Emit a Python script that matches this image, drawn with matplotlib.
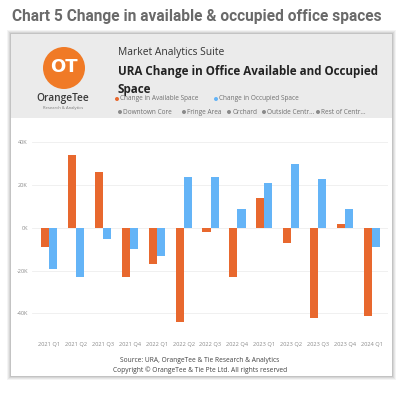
import matplotlib
matplotlib.use('Agg')
import matplotlib.pyplot as plt
import numpy as np
from matplotlib.patches import Rectangle, Ellipse

# data (thousand sq ft)
quarters = ['2021 Q1', '2021 Q2', '2021 Q3', '2021 Q4', '2022 Q1', '2022 Q2', '2022 Q3',
            '2022 Q4', '2023 Q1', '2023 Q2', '2023 Q3', '2023 Q4', '2024 Q1']
available = [-9, 34, 26, -23, -17, -44, -2, -23, 14, -7, -42, 2, -41]
occupied = [-19, -23, -5, -10, -13, 24, 24, 9, 21, 30, 23, 9, -9]
yticks = [-40, -20, 0, 20, 40]
ytick_labels = ['-40K', '-20K', '0K', '20K', '40K']

orange = '#E8682E'
blue = '#64B4F7'
W, H = 403, 397


def fx(x):
    return x / W


def fy(y):
    return 1 - y / H


fig = plt.figure(figsize=(W / 100, H / 100), dpi=100)
fig.patch.set_facecolor('white')

# card shadow + card
for off, a in [(4, 0.10), (3, 0.15), (2, 0.2), (1, 0.3)]:
    fig.add_artist(Rectangle((fx(11 - off), fy(376 + off)), fx(381 + 2 * off), (376 - 34 + 2 * off) / H,
                             facecolor='#9a9a9a', alpha=a, edgecolor='none', zorder=0))
fig.add_artist(Rectangle((fx(11), fy(376)), fx(381), (376 - 118) / H, facecolor='white', edgecolor='none',
                         zorder=0))
fig.add_artist(Rectangle((fx(11), fy(118)), fx(381), (118 - 34) / H, facecolor='#ebebeb', edgecolor='none',
                         zorder=0))

# title
fig.text(fx(12), fy(17), 'Chart 5 Change in available & occupied office spaces', fontsize=11.2,
         fontweight='bold', family='Roboto', color='#6a6a6a', va='center', ha='left')

# logo
fig.add_artist(Ellipse((fx(64), fy(68)), 42 / W, 42 / H, facecolor='#F07A26', edgecolor='none'))
fig.text(fx(64), fy(67), 'OT', fontsize=13, fontweight='bold', color='white', ha='center', va='center',
         family='DejaVu Sans')
fig.text(fx(63), fy(98), 'OrangeTee', fontsize=7.3, color='#3a3a3a', ha='center', va='center',
         family='Open Sans', fontweight='semibold')
fig.text(fx(63), fy(108), 'Research & Analytics', fontsize=3, color='#777777', ha='center', va='center',
         family='Open Sans')

# header texts
fig.text(fx(118), fy(52), 'Market Analytics Suite', fontsize=7.4, color='#333333', ha='left', va='center',
         family='Open Sans')
fig.text(fx(118), fy(72), 'URA Change in Office Available and Occupied', fontsize=8.4, fontweight='bold',
         color='#222222', ha='left', va='center', family='Open Sans')
fig.text(fx(118), fy(89), 'Space', fontsize=8.4, fontweight='bold', color='#222222', ha='left', va='center',
         family='Open Sans')

legend_rows = [
    [('Change in Available Space', orange), ('Change in Occupied Space', blue)],
    [('Downtown Core', '#8a8a8a'), ('Fringe Area', '#8a8a8a'), ('Orchard', '#8a8a8a'),
     ('Outside Centr...', '#8a8a8a'), ('Rest of Centr...', '#8a8a8a')],
]
legend_x = [[117, 216], [120, 184, 229, 264, 318]]
legend_y = [99, 112]
for row, xs, yy in zip(legend_rows, legend_x, legend_y):
    for (lab, col), xx in zip(row, xs):
        fig.add_artist(Ellipse((fx(xx), fy(yy)), 4 / W, 4 / H, facecolor=col, edgecolor='none'))
        fig.text(fx(xx + 3.2), fy(yy), lab, fontsize=4.7, color='#707070', ha='left', va='center',
                 family='Open Sans')

# plot area
top_px, bot_px, left_px, right_px = 120, 332, 32, 388
ax = fig.add_axes([fx(left_px), fy(bot_px), (right_px - left_px) / W, (bot_px - top_px) / H])
ax.set_zorder(5)
ax.set_facecolor('none')
x = np.arange(len(quarters))
bw = 0.3
ax.bar(x - bw / 2, available, bw, color=orange, zorder=3)
ax.bar(x + bw / 2, occupied, bw, color=blue, zorder=3)
ax.set_ylim(-48.7, 50.5)
ax.set_xlim(-0.63, 12.59)
ax.set_yticks(yticks)
ax.set_yticklabels(ytick_labels)
ax.set_xticks(x)
ax.set_xticklabels(quarters)
ax.tick_params(axis='both', length=0, labelsize=4.1, labelcolor='#8a8a8a')
ax.tick_params(axis='x', pad=7)
ax.tick_params(axis='y', pad=3)
for lab in ax.get_xticklabels() + ax.get_yticklabels():
    lab.set_family('Open Sans')
ax.grid(axis='y', color='#eeeeee', linewidth=0.6, zorder=0)
for s in ax.spines.values():
    s.set_visible(False)

# footer
fig.text(fx(200), fy(360), 'Source: URA, OrangeTee & Tie Research & Analytics', fontsize=4.8, color='#444444',
         ha='center', va='center', family='Open Sans')
fig.text(fx(200), fy(370), 'Copyright \u00a9 OrangeTee & Tie Pte Ltd. All rights reserved', fontsize=4.8,
         color='#444444', ha='center', va='center', family='Open Sans')

plt.savefig('out.png', dpi=100)
